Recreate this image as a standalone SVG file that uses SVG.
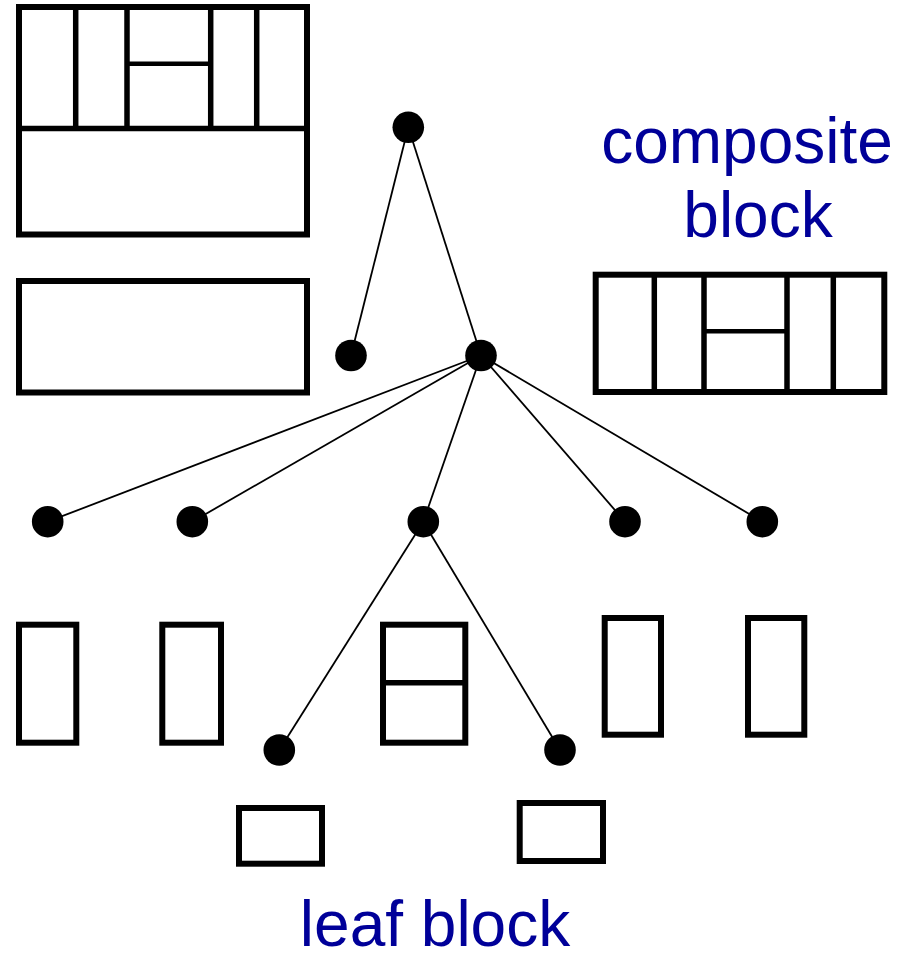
<svg xmlns="http://www.w3.org/2000/svg" width="904" height="953" viewBox="0 0 904 953">
  <style>
    .blk { fill: #fff; stroke: #000; stroke-width: 6; }
    .div { stroke: #000; stroke-width: 5.5; fill: none; }
    .thin { stroke: #000; stroke-width: 4.5; fill: none; }
    .edge { stroke: #000; stroke-width: 1.8; fill: none; }
    .dot { fill: #000; }
    .lbl { font-family: "Liberation Sans", Arial, sans-serif; font-size: 64px; fill: #000099; text-anchor: middle; }
  </style>
  <rect width="904" height="953" fill="#fff"/>

  <!-- composite block split into a row of five slots above a wide slot -->
  <g id="block-top">
    <rect class="blk" x="19" y="7" width="288" height="227.5"/>
    <line class="div" x1="19" y1="128.5" x2="307" y2="128.5"/>
    <line class="div" x1="75.7" y1="7" x2="75.7" y2="128.5"/>
    <line class="div" x1="127" y1="7" x2="127" y2="128.5"/>
    <line class="div" x1="210.7" y1="7" x2="210.7" y2="128.5"/>
    <line class="div" x1="256.7" y1="7" x2="256.7" y2="128.5"/>
    <line class="thin" x1="127" y1="63.7" x2="210.7" y2="63.7"/>
  </g>

  <g id="block-wide">
    <rect class="blk" x="19" y="281" width="288" height="111.5"/>
  </g>

  <g id="block-row">
    <rect class="blk" x="595.7" y="274.7" width="288.6" height="117.3"/>
    <line class="div" x1="654.3" y1="274.7" x2="654.3" y2="392"/>
    <line class="div" x1="704" y1="274.7" x2="704" y2="392"/>
    <line class="div" x1="787" y1="274.7" x2="787" y2="392"/>
    <line class="div" x1="833.3" y1="274.7" x2="833.3" y2="392"/>
    <line class="thin" x1="704" y1="331.3" x2="787" y2="331.3"/>
  </g>

  <!-- slot blocks -->
  <g id="slot-1"><rect class="blk" x="19" y="624.7" width="57.3" height="118"/></g>
  <g id="slot-2"><rect class="blk" x="162.3" y="624.7" width="58.7" height="118"/></g>
  <g id="slot-3">
    <rect class="blk" x="383" y="624.7" width="82.3" height="118"/>
    <line class="div" x1="383" y1="682.7" x2="465.3" y2="682.7"/>
  </g>
  <g id="slot-4"><rect class="blk" x="604.7" y="618" width="56.3" height="116.7"/></g>
  <g id="slot-5"><rect class="blk" x="748" y="618" width="56.3" height="116.7"/></g>

  <!-- leaf blocks -->
  <g id="leaf-1"><rect class="blk" x="239" y="808" width="83" height="55.7"/></g>
  <g id="leaf-2"><rect class="blk" x="519.7" y="803" width="83.3" height="58"/></g>

  <!-- tree edges -->
  <g id="edges">
    <line class="edge" x1="408.3" y1="127.3" x2="351" y2="355.5"/>
    <line class="edge" x1="408.3" y1="127.3" x2="481" y2="355.5"/>
    <line class="edge" x1="481" y1="355.5" x2="47.7" y2="521.7"/>
    <line class="edge" x1="481" y1="355.5" x2="192.3" y2="521.7"/>
    <line class="edge" x1="481" y1="355.5" x2="423.3" y2="521.7"/>
    <line class="edge" x1="481" y1="355.5" x2="625" y2="521.7"/>
    <line class="edge" x1="481" y1="355.5" x2="762.3" y2="521.7"/>
    <line class="edge" x1="423.3" y1="521.7" x2="279.3" y2="750"/>
    <line class="edge" x1="423.3" y1="521.7" x2="560" y2="750"/>
  </g>

  <!-- tree nodes -->
  <g id="n-root"><circle class="dot" cx="408.3" cy="127.3" r="15.8"/></g>
  <g id="n-left"><circle class="dot" cx="351" cy="355.5" r="15.8"/></g>
  <g id="n-mid"><circle class="dot" cx="481" cy="355.5" r="15.8"/></g>
  <g id="n-c1"><circle class="dot" cx="47.7" cy="521.7" r="15.8"/></g>
  <g id="n-c2"><circle class="dot" cx="192.3" cy="521.7" r="15.8"/></g>
  <g id="n-c3"><circle class="dot" cx="423.3" cy="521.7" r="15.8"/></g>
  <g id="n-c4"><circle class="dot" cx="625" cy="521.7" r="15.8"/></g>
  <g id="n-c5"><circle class="dot" cx="762.3" cy="521.7" r="15.8"/></g>
  <g id="n-l1"><circle class="dot" cx="279.3" cy="750" r="15.8"/></g>
  <g id="n-l2"><circle class="dot" cx="560" cy="750" r="15.8"/></g>

  <!-- labels -->
  <g id="label-composite">
    <text class="lbl" x="747" y="163">composite</text>
    <text class="lbl" x="758" y="237">block</text>
  </g>
  <g id="label-leaf">
    <text class="lbl" x="435" y="946">leaf block</text>
  </g>
</svg>
